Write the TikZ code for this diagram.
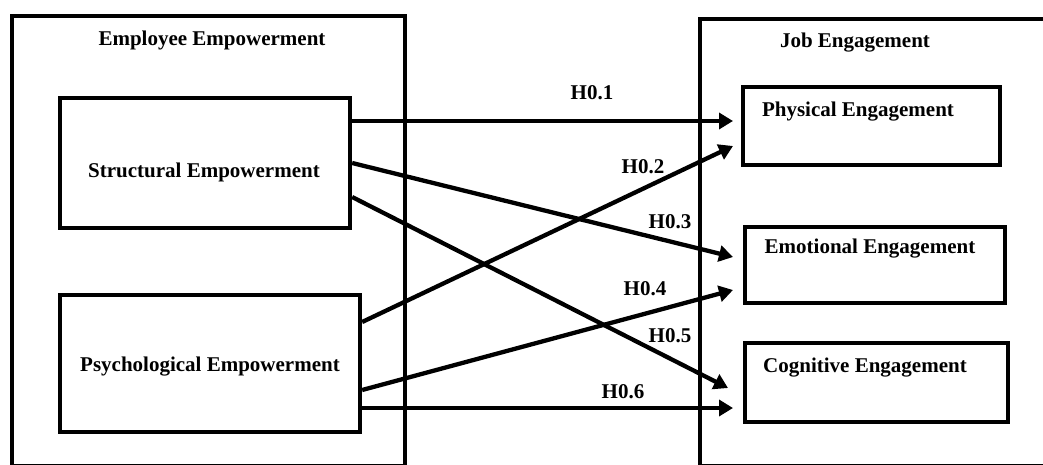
\documentclass[tikz,border=0pt]{standalone}
\usepackage{fontspec}
\setmainfont{Liberation Serif}
\usetikzlibrary{arrows.meta}
\begin{document}
\begin{tikzpicture}[x=1pt,y=-1pt,
  boxline/.style={line width=4.3pt},
  lbl/.style={font=\fontsize{21}{24}\selectfont\bfseries, inner sep=0pt, anchor=center},
  conn/.style={line width=4.3pt, -{Triangle[length=14pt,width=16pt]}, shorten >=0pt}]
\clip (0,0) rectangle (1043,465);
\fill[white] (0,0) rectangle (1043,465);
% outer groups
\draw[boxline] (12,16) rectangle (405,466);
\draw[boxline] (700,19) rectangle (1060,466);
\node[lbl] (ee) at (212,40) {Employee Empowerment};
\node[lbl] (je) at (855,43) {Job Engagement};
% inner boxes
\node[boxline, draw, minimum width=290pt, minimum height=130pt, inner sep=0pt] (se) at (205,163) {};
\node[lbl] (set) at (204,172) {Structural Empowerment};
\node[boxline, draw, minimum width=300pt, minimum height=137pt, inner sep=0pt] (pe) at (210,363.5) {};
\node[lbl] (pet) at (210,367) {Psychological Empowerment};
\node[boxline, draw, minimum width=257pt, minimum height=78pt, inner sep=0pt] (pg) at (871.5,126) {};
\node[lbl] (pgt) at (858,112) {Physical Engagement};
\node[boxline, draw, minimum width=260pt, minimum height=76pt, inner sep=0pt] (eg) at (875,265) {};
\node[lbl] (egt) at (870,249) {Emotional Engagement};
\node[boxline, draw, minimum width=263pt, minimum height=79pt, inner sep=0pt] (cg) at (876.5,382.5) {};
\node[lbl] (cgt) at (865,368) {Cognitive Engagement};
% arrow end points
\coordinate (t1) at (733,121);
\coordinate (t2) at (733,146);
\coordinate (t3) at (733,257);
\coordinate (t4) at (733,290);
\coordinate (t5) at (728,388);
\coordinate (t6) at (733,408);
\draw[conn] (se.east |- 0,121) -- (t1);
\draw[conn] (pe.east |- 0,322) -- (t2);
\draw[conn] (se.east |- 0,163) -- (t3);
\draw[conn] (pe.east |- 0,390) -- (t4);
\draw[conn] (se.east |- 0,197) -- (t5);
\draw[conn] (pe.east |- 0,408) -- (t6);
% labels
\node[lbl] (h1) at (592,93) {H0.1};
\node[lbl] (h2) at (643,167) {H0.2};
\node[lbl] (h3) at (670,222) {H0.3};
\node[lbl] (h4) at (645,289) {H0.4};
\node[lbl] (h5) at (670,336) {H0.5};
\node[lbl] (h6) at (623,392) {H0.6};
\end{tikzpicture}
\end{document}
